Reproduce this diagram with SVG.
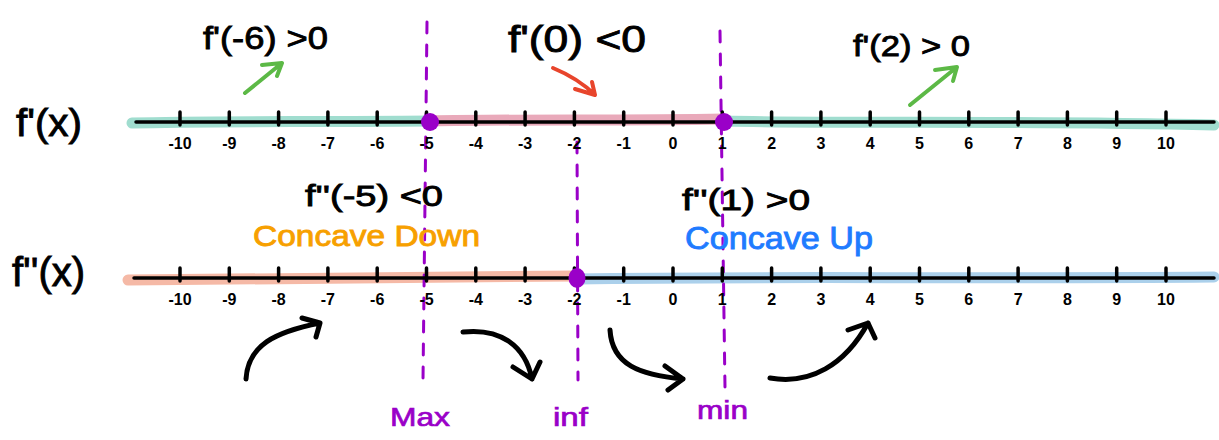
<svg xmlns="http://www.w3.org/2000/svg" width="1219" height="440" viewBox="0 0 1219 440">
  <style>
    .axis { stroke: #000; stroke-width: 3.5; stroke-linecap: round; fill: none; }
    .tick { stroke: #000; stroke-width: 3.5; stroke-linecap: round; }
    .band { stroke-width: 11; stroke-linecap: round; fill: none; }
    .guide { stroke: #9a00c8; stroke-width: 3; stroke-dasharray: 11 12; stroke-linecap: round; fill: none; }
    .dot { fill: #9a00c8; }
    .tl { font-family: "Liberation Sans", Arial, sans-serif; font-size: 16px; font-weight: bold; fill: #000; text-anchor: middle; }
    .math { font-family: "Liberation Sans", Arial, sans-serif; fill: #000; stroke: #000; stroke-width: 0.9; }
    .pl { font-family: "Liberation Sans", Arial, sans-serif; fill: #9a00c8; stroke: #9a00c8; stroke-width: 0.7; font-size: 26px; }
    .curve { stroke: #000; stroke-width: 5; stroke-linecap: round; stroke-linejoin: round; fill: none; }
    .garr { stroke: #5cb946; stroke-width: 4; stroke-linecap: round; stroke-linejoin: round; fill: none; }
    .rarr { stroke: #e8452c; stroke-width: 4; stroke-linecap: round; stroke-linejoin: round; fill: none; }
  </style>

  <rect width="1219" height="440" fill="#ffffff"/>

  <!-- colored highlight bands -->
  <g id="bands">
    <path class="band" stroke="#a0ddcf" d="M132,123 C200,121 300,122 430,121"/>
    <path class="band" stroke="#e9a9ba" d="M430,121 C520,119 620,121 724,119"/>
    <path class="band" stroke="#a0ddcf" d="M724,121 C850,124 1000,120 1214,125"/>
    <path class="band" stroke="#f5b9a6" d="M128,280 C250,278 400,277 577,276"/>
    <path class="band" stroke="#abd0eb" d="M577,279 C750,276 950,279 1214,277"/>
  </g>

  <!-- guides (dashed vertical lines) -->
  <g id="guides">
    <path class="guide" d="M427,22 L423,380"/>
    <path class="guide" d="M577,142 L578,380"/>
    <path class="guide" d="M720,31 L725,388"/>
  </g>

  <!-- f'(x) number line -->
  <g id="line-fprime">
    <line class="axis" x1="136" y1="122" x2="1214" y2="122"/>
    <g id="ticks-top">
      <line class="tick" x1="180" y1="112" x2="180" y2="125"/>
      <line class="tick" x1="229.3" y1="112" x2="229.3" y2="125"/>
      <line class="tick" x1="278.6" y1="112" x2="278.6" y2="125"/>
      <line class="tick" x1="327.9" y1="112" x2="327.9" y2="125"/>
      <line class="tick" x1="377.2" y1="112" x2="377.2" y2="125"/>
      <line class="tick" x1="426.5" y1="112" x2="426.5" y2="125"/>
      <line class="tick" x1="475.8" y1="112" x2="475.8" y2="125"/>
      <line class="tick" x1="525.1" y1="112" x2="525.1" y2="125"/>
      <line class="tick" x1="574.4" y1="112" x2="574.4" y2="125"/>
      <line class="tick" x1="623.7" y1="112" x2="623.7" y2="125"/>
      <line class="tick" x1="673" y1="112" x2="673" y2="125"/>
      <line class="tick" x1="722.3" y1="112" x2="722.3" y2="125"/>
      <line class="tick" x1="771.6" y1="112" x2="771.6" y2="125"/>
      <line class="tick" x1="820.9" y1="112" x2="820.9" y2="125"/>
      <line class="tick" x1="870.2" y1="112" x2="870.2" y2="125"/>
      <line class="tick" x1="919.5" y1="112" x2="919.5" y2="125"/>
      <line class="tick" x1="968.8" y1="112" x2="968.8" y2="125"/>
      <line class="tick" x1="1018.1" y1="112" x2="1018.1" y2="125"/>
      <line class="tick" x1="1067.4" y1="112" x2="1067.4" y2="125"/>
      <line class="tick" x1="1116.7" y1="112" x2="1116.7" y2="125"/>
      <line class="tick" x1="1166" y1="112" x2="1166" y2="125"/>
    </g>
    <g id="labels-top">
      <text class="tl" x="180" y="149">-10</text>
      <text class="tl" x="229.3" y="149">-9</text>
      <text class="tl" x="278.6" y="149">-8</text>
      <text class="tl" x="327.9" y="149">-7</text>
      <text class="tl" x="377.2" y="149">-6</text>
      <text class="tl" x="426.5" y="149">-5</text>
      <text class="tl" x="475.8" y="149">-4</text>
      <text class="tl" x="525.1" y="149">-3</text>
      <text class="tl" x="574.4" y="149">-2</text>
      <text class="tl" x="623.7" y="149">-1</text>
      <text class="tl" x="673" y="149">0</text>
      <text class="tl" x="722.3" y="149">1</text>
      <text class="tl" x="771.6" y="149">2</text>
      <text class="tl" x="820.9" y="149">3</text>
      <text class="tl" x="870.2" y="149">4</text>
      <text class="tl" x="919.5" y="149">5</text>
      <text class="tl" x="968.8" y="149">6</text>
      <text class="tl" x="1018.1" y="149">7</text>
      <text class="tl" x="1067.4" y="149">8</text>
      <text class="tl" x="1116.7" y="149">9</text>
      <text class="tl" x="1166" y="149">10</text>
    </g>
  </g>

  <!-- f''(x) number line -->
  <g id="line-fdoubleprime">
    <line class="axis" x1="134" y1="278" x2="1214" y2="278"/>
    <g id="ticks-bottom">
      <line class="tick" x1="180" y1="268" x2="180" y2="281"/>
      <line class="tick" x1="229.3" y1="268" x2="229.3" y2="281"/>
      <line class="tick" x1="278.6" y1="268" x2="278.6" y2="281"/>
      <line class="tick" x1="327.9" y1="268" x2="327.9" y2="281"/>
      <line class="tick" x1="377.2" y1="268" x2="377.2" y2="281"/>
      <line class="tick" x1="426.5" y1="268" x2="426.5" y2="281"/>
      <line class="tick" x1="475.8" y1="268" x2="475.8" y2="281"/>
      <line class="tick" x1="525.1" y1="268" x2="525.1" y2="281"/>
      <line class="tick" x1="574.4" y1="268" x2="574.4" y2="281"/>
      <line class="tick" x1="623.7" y1="268" x2="623.7" y2="281"/>
      <line class="tick" x1="673" y1="268" x2="673" y2="281"/>
      <line class="tick" x1="722.3" y1="268" x2="722.3" y2="281"/>
      <line class="tick" x1="771.6" y1="268" x2="771.6" y2="281"/>
      <line class="tick" x1="820.9" y1="268" x2="820.9" y2="281"/>
      <line class="tick" x1="870.2" y1="268" x2="870.2" y2="281"/>
      <line class="tick" x1="919.5" y1="268" x2="919.5" y2="281"/>
      <line class="tick" x1="968.8" y1="268" x2="968.8" y2="281"/>
      <line class="tick" x1="1018.1" y1="268" x2="1018.1" y2="281"/>
      <line class="tick" x1="1067.4" y1="268" x2="1067.4" y2="281"/>
      <line class="tick" x1="1116.7" y1="268" x2="1116.7" y2="281"/>
      <line class="tick" x1="1166" y1="268" x2="1166" y2="281"/>
    </g>
    <g id="labels-bottom">
      <text class="tl" x="180" y="305">-10</text>
      <text class="tl" x="229.3" y="305">-9</text>
      <text class="tl" x="278.6" y="305">-8</text>
      <text class="tl" x="327.9" y="305">-7</text>
      <text class="tl" x="377.2" y="305">-6</text>
      <text class="tl" x="426.5" y="305">-5</text>
      <text class="tl" x="475.8" y="305">-4</text>
      <text class="tl" x="525.1" y="305">-3</text>
      <text class="tl" x="574.4" y="305">-2</text>
      <text class="tl" x="623.7" y="305">-1</text>
      <text class="tl" x="673" y="305">0</text>
      <text class="tl" x="722.3" y="305">1</text>
      <text class="tl" x="771.6" y="305">2</text>
      <text class="tl" x="820.9" y="305">3</text>
      <text class="tl" x="870.2" y="305">4</text>
      <text class="tl" x="919.5" y="305">5</text>
      <text class="tl" x="968.8" y="305">6</text>
      <text class="tl" x="1018.1" y="305">7</text>
      <text class="tl" x="1067.4" y="305">8</text>
      <text class="tl" x="1116.7" y="305">9</text>
      <text class="tl" x="1166" y="305">10</text>
    </g>
  </g>

  <!-- critical / inflection points -->
  <g id="point-max"><circle class="dot" cx="430" cy="122" r="9"/></g>
  <g id="point-min"><circle class="dot" cx="724" cy="122" r="9"/></g>
  <g id="point-inf"><ellipse class="dot" cx="577" cy="278" rx="8.5" ry="10"/></g>

  <!-- row labels -->
  <g id="label-fprime"><text class="math" x="16" y="136" font-size="38" textLength="66" lengthAdjust="spacingAndGlyphs">f'(x)</text></g>
  <g id="label-fdoubleprime"><text class="math" x="12" y="286" font-size="40" textLength="73" lengthAdjust="spacingAndGlyphs">f''(x)</text></g>

  <!-- sign annotations -->
  <g id="note-fp-neg6"><text class="math" x="203" y="49" font-size="32" textLength="125" lengthAdjust="spacingAndGlyphs">f'(-6) &gt;0</text></g>
  <g id="note-fp-0"><text class="math" x="508" y="52" font-size="36" textLength="138" lengthAdjust="spacingAndGlyphs">f'(0) &lt;0</text></g>
  <g id="note-fp-2"><text class="math" x="853" y="56" font-size="30" textLength="117" lengthAdjust="spacingAndGlyphs">f'(2) &gt; 0</text></g>
  <g id="note-fpp-neg5"><text class="math" x="305" y="206" font-size="30" textLength="138" lengthAdjust="spacingAndGlyphs">f''(-5) &lt;0</text></g>
  <g id="note-fpp-1"><text class="math" x="682" y="210" font-size="30" textLength="128" lengthAdjust="spacingAndGlyphs">f''(1) &gt;0</text></g>
  <g id="note-concave-down"><text x="253" y="246" font-family="Liberation Sans, Arial, sans-serif" font-size="30" fill="#f7a000" stroke="#f7a000" stroke-width="0.9" textLength="227" lengthAdjust="spacingAndGlyphs">Concave Down</text></g>
  <g id="note-concave-up"><text x="685" y="249" font-family="Liberation Sans, Arial, sans-serif" font-size="32" fill="#1f7bff" stroke="#1f7bff" stroke-width="0.9" textLength="188" lengthAdjust="spacingAndGlyphs">Concave Up</text></g>

  <!-- extremum / inflection labels -->
  <g id="label-max"><text class="pl" x="390" y="426" textLength="60" lengthAdjust="spacingAndGlyphs">Max</text></g>
  <g id="label-inf"><text class="pl" x="553" y="426" textLength="35" lengthAdjust="spacingAndGlyphs">inf</text></g>
  <g id="label-min"><text class="pl" x="697" y="419" textLength="51" lengthAdjust="spacingAndGlyphs">min</text></g>

  <!-- connectors: direction arrows -->
  <g id="connectors">
    <path class="garr" d="M245,93 L282,63 M262,65 L282,63 L277,76"/>
    <path class="rarr" d="M553,68 C570,75 585,85 595,95 M575,89 L595,95 L592,82"/>
    <path class="garr" d="M910,105 L957,67 M935,70 L957,67 L953,81"/>
    <path class="curve" d="M246,379 C248,345 275,332 320,323 M302,318 L320,323 L316,337"/>
    <path class="curve" d="M463,332 C500,328 525,345 532,379 M513,367 L532,379 L540,362"/>
    <path class="curve" d="M610,330 C612,365 640,375 683,379 M665,366 L683,379 L668,390"/>
    <path class="curve" d="M770,378 C810,385 845,365 868,323 M848,330 L868,323 L875,338"/>
  </g>
</svg>
